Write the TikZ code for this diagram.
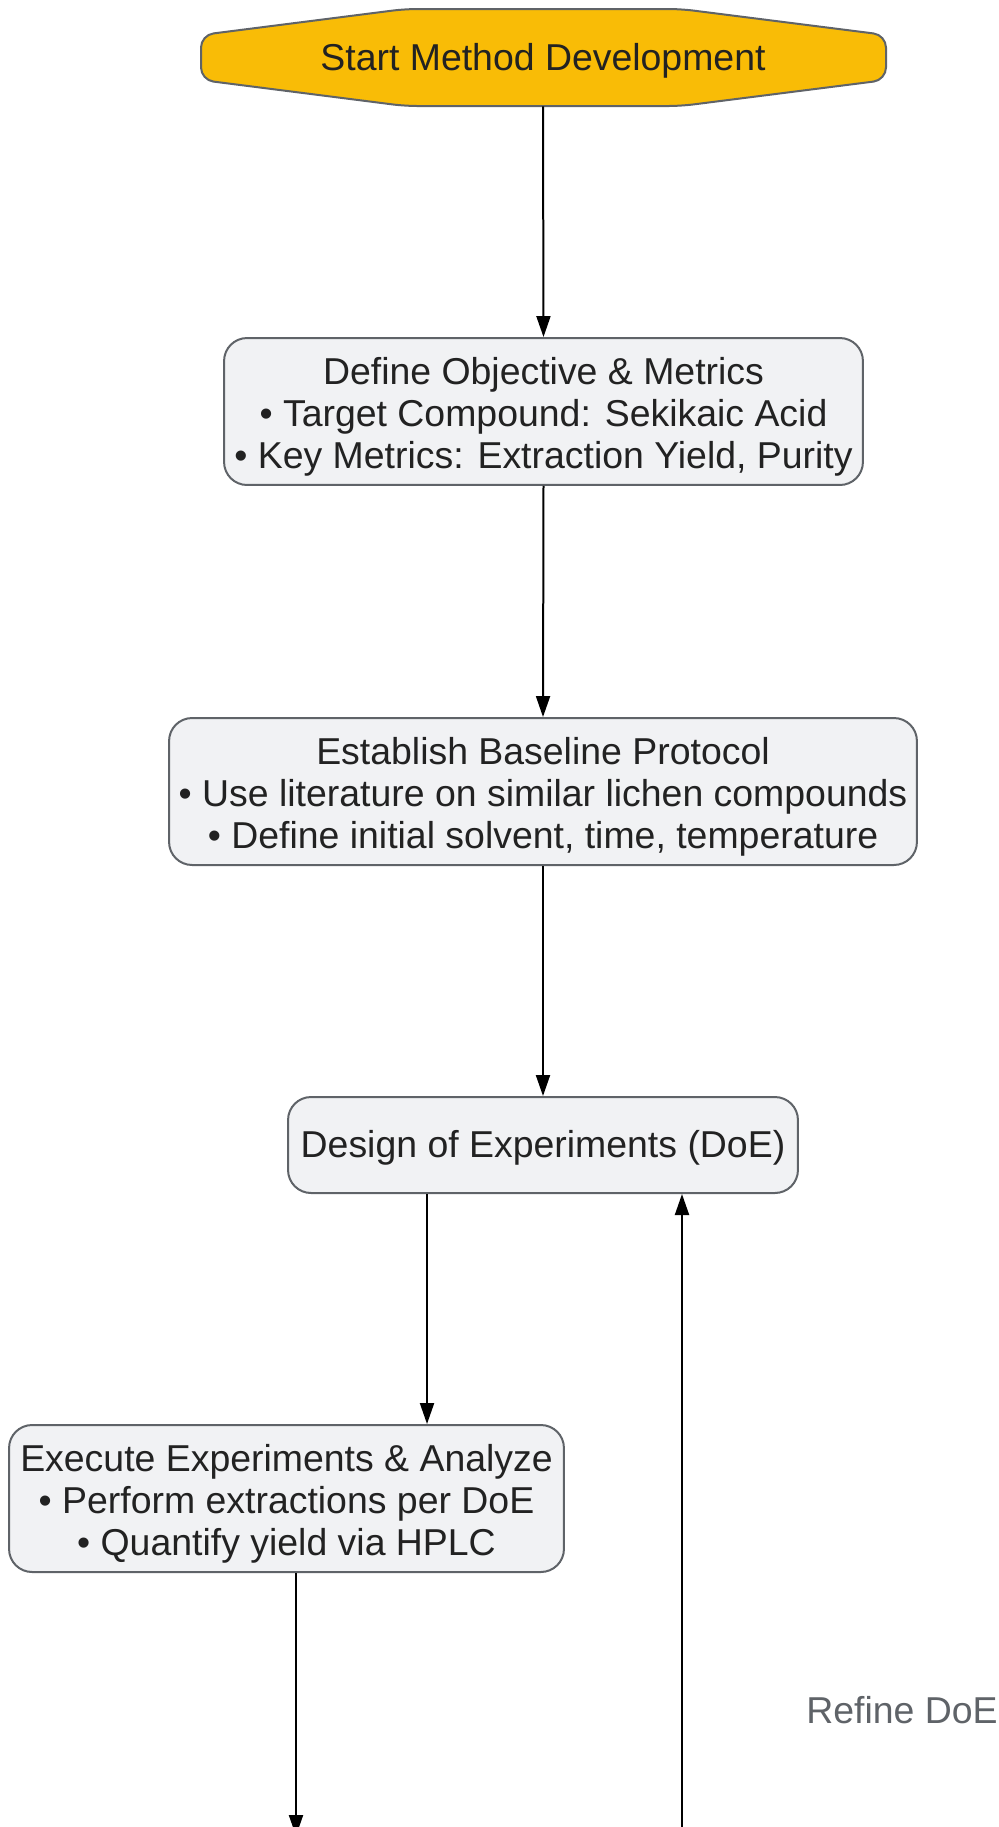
\documentclass[tikz,border=0pt]{standalone}
\usepackage{fontspec}
\setmainfont{Liberation Sans}
\usetikzlibrary{arrows.meta}

\definecolor{startfill}{HTML}{F9BC06}
\definecolor{boxfill}{HTML}{F1F2F4}
\definecolor{boxline}{HTML}{5F6368}
\definecolor{inktext}{HTML}{222222}
\newcommand{\topstrut}{\rule{0pt}{1em}}

\begin{document}
\begin{tikzpicture}[x=0.02cm,y=-0.02cm,
	boxtext/.style={font=\fontsize{21.3}{23.9}\selectfont, execute at begin node={\rule{0pt}{0.905em}}, execute at end node={\rule[-0.212em]{0pt}{0.212em}}},
	stepbox/.style={boxtext, draw=boxline, line width=0.04cm, fill=boxfill, rounded corners=0.46cm, align=center, text=inktext, inner sep=0pt, minimum height=2.94cm},
	arr/.style={line width=0.04cm, -{Triangle[length=0.42cm,width=0.28cm]}}]
			\useasboundingbox (0,0) rectangle (999,1827);
			\clip (0,0) rectangle (999,1827);
			% start shape
			\draw[line width=0.04cm, draw=boxline, fill=startfill, rounded corners=0.25cm] (201,35) -- (405,9) -- (681,9) -- (886,35) -- (886,80) -- (681,106) -- (405,106) -- (201,80) -- cycle;
			\node[boxtext, minimum width=13.7cm, minimum height=1.94cm, inner sep=0pt, text=inktext] (start) at (543,57.5) {Start Method Development};
			\node[stepbox, minimum width=12.78cm] (define) at (543.5,411.5) {\topstrut Define Objective \& Metrics\\ • Target Compound: Sekikaic Acid\\ • Key Metrics: Extraction Yield, Purity};
			\node[stepbox, minimum width=14.96cm] (baseline) at (543,791.5) {\topstrut Establish Baseline Protocol\\ • Use literature on similar lichen compounds\\ • Define initial solvent, time, temperature};
			\node[stepbox, minimum width=10.2cm, minimum height=1.92cm] (doe) at (543,1145) {Design of Experiments (DoE)};
			\node[stepbox, minimum width=11.1cm] (exec) at (286.5,1498.5) {\topstrut Execute Experiments \& Analyze\\ • Perform extractions per DoE\\ • Quantify yield via HPLC};
			\node[boxtext, anchor=west, inner sep=0pt, text=boxline] (refine) at (806,1711) {Refine DoE};
			\coordinate (execout) at (296,1836);
			\coordinate (loopin) at (682,1850);
			\draw[arr] (start.south) -- (define.north);
			\draw[arr] (define.south) -- (baseline.north);
			\draw[arr] (baseline.south) -- (doe.north);
			\draw[arr] ([xshift=-2.32cm]doe.south) -- ([xshift=-2.32cm]doe.south |- exec.north);
			\draw[arr] (exec.south -| execout) -- (execout);
			\draw[arr] (loopin) -- (loopin |- doe.south);
\end{tikzpicture}
\end{document}
